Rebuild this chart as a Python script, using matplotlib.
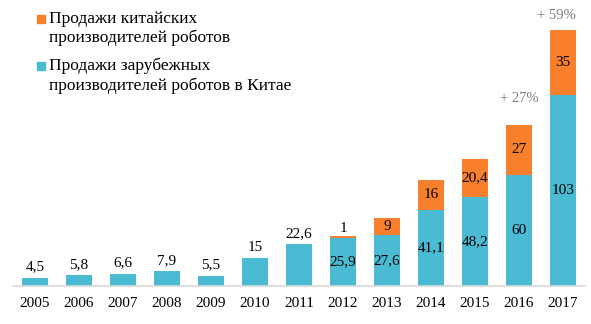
import numpy as np
import matplotlib.pyplot as plt
from matplotlib.patches import Rectangle

years = ['2005', '2006', '2007', '2008', '2009', '2010', '2011',
         '2012', '2013', '2014', '2015', '2016', '2017']
foreign = [4.5, 5.8, 6.6, 7.9, 5.5, 15, 22.6, 25.9, 27.6, 41.1, 48.2, 60, 103]
chinese = [0, 0, 0, 0, 0, 0, 0, 1, 9, 16, 20.4, 27, 35]
growth = {'2016': '+ 27%', '2017': '+ 59%'}

BLUE = '#4BBAD3'
ORANGE = '#F8802C'
FONT = 'Liberation Serif'

plt.rcParams['font.family'] = FONT

fig = plt.figure(figsize=(5.91, 3.24), dpi=100)
ax = fig.add_axes([13 / 591, 38 / 324, 572 / 591, 269 / 324])

x = np.arange(len(years))
w = 0.57
ax.bar(x, foreign, w, color=BLUE)
ax.bar(x, chinese, w, bottom=foreign, color=ORANGE)

ax.set_xlim(-0.5, len(years) - 0.5)
ax.set_ylim(0, 145)
ax.set_yticks([])
ax.set_xticks(x)
ax.set_xticklabels(years, fontsize=11)
ax.tick_params(axis='x', length=0, pad=8)
for s in ['top', 'left', 'right']:
    ax.spines[s].set_visible(False)
ax.spines['bottom'].set_color('#d9d9d9')
ax.spines['bottom'].set_linewidth(1.2)

def fmt(v):
    return ('%g' % v).replace('.', ',')

fs = 11
for i, (f, c) in enumerate(zip(foreign, chinese)):
    if c == 0:
        # small bars: value sits above the bar
        ax.annotate(fmt(f), (i, f), xytext=(0, 3), textcoords='offset points',
                    ha='center', va='bottom', fontsize=fs)
    else:
        ax.text(i, f / 2, fmt(f), ha='center', va='center', fontsize=fs)
        if c < 3:
            ax.annotate(fmt(c), (i, f + c), xytext=(0, 1), textcoords='offset points',
                        ha='center', va='bottom', fontsize=fs)
        else:
            ax.text(i, f + c / 2, fmt(c), ha='center', va='center', fontsize=fs)

for yr, txt in growth.items():
    i = years.index(yr)
    top = foreign[i] + chinese[i]
    off = (0, 14) if top < 100 else (-5, 6)
    ax.annotate(txt, (i, top), xytext=off, textcoords='offset points',
                ha='center', va='bottom', fontsize=10.5, color='#7f7f7f')

# legend drawn by hand so the swatch lines up with the first text line
items = [(ORANGE, 'Продажи китайских\nпроизводителей роботов', 19),
         (BLUE, 'Продажи зарубежных\nпроизводителей роботов в Китае', 66)]
for col, lab, ypx in items:
    fig.patches.append(Rectangle((37 / 591, 1 - (ypx + 4) / 324), 8 / 591, 8 / 324,
                                 transform=fig.transFigure, color=col))
    fig.text(49 / 591, 1 - (ypx - 8) / 324, lab, ha='left', va='top',
             fontsize=12.5, linespacing=1.22)

fig.savefig('out.png', dpi=100)
